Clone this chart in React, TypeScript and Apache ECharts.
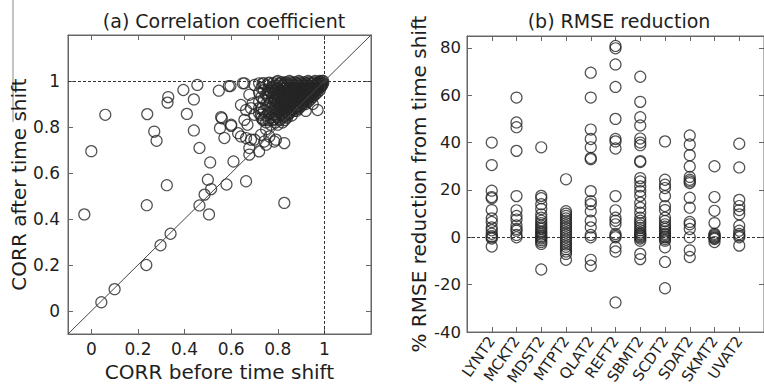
import React, { useEffect, useRef } from "react";
import * as echarts from "echarts";

// ---------- Panel (a): CORR before vs after time shift ----------
const corrTicks = [0, 0.2, 0.4, 0.6, 0.8, 1];

const sparsePoints: [number, number][] = [
  [-0.03, 0.42], [0.0, 0.695], [0.043, 0.038], [0.06, 0.853], [0.1, 0.095],
  [0.236, 0.2], [0.238, 0.46], [0.24, 0.856], [0.27, 0.78], [0.28, 0.74],
  [0.297, 0.286], [0.324, 0.547], [0.327, 0.906], [0.33, 0.93], [0.34, 0.336],
  [0.395, 0.961], [0.41, 0.857], [0.44, 0.92], [0.44, 0.785], [0.455, 0.983],
  [0.464, 0.709], [0.464, 0.459], [0.486, 0.506], [0.5, 0.571], [0.505, 0.42],
  [0.51, 0.646], [0.514, 0.53], [0.547, 0.958], [0.557, 0.843], [0.552, 0.795],
  [0.571, 0.752], [0.58, 0.55], [0.597, 0.978], [0.6, 0.805], [0.61, 0.65],
  [0.63, 0.773], [0.642, 0.896], [0.642, 0.759], [0.657, 0.99], [0.664, 0.874],
  [0.664, 0.564], [0.664, 0.752], [0.67, 0.81], [0.678, 0.68], [0.678, 0.94],
  [0.685, 0.882], [0.685, 0.745], [0.692, 0.903], [0.7, 0.983], [0.7, 0.853],
  [0.7, 0.745], [0.678, 0.709], [0.72, 0.882], [0.728, 0.766], [0.728, 0.853],
  [0.735, 0.831], [0.742, 0.737], [0.75, 0.79], [0.75, 0.723], [0.764, 0.759],
  [0.785, 0.737], [0.792, 0.745], [0.828, 0.73], [0.828, 0.47], [0.971, 0.874],
  [0.657, 0.831], [0.56, 0.838], [0.6, 0.81], [0.65, 0.99], [0.735, 0.99],
  [0.764, 0.993], [0.757, 0.947], [0.59, 0.978], [0.72, 0.694],
];

const clusterPoints: [number, number][] = [
  [0.72, 0.99], [0.72, 0.95], [0.72, 0.91], [0.72, 0.86],
  [0.73, 0.97], [0.73, 0.93], [0.73, 0.88], [0.73, 0.84],
  [0.74, 0.99], [0.74, 0.96], [0.74, 0.92], [0.74, 0.87], [0.74, 0.83],
  [0.75, 0.98], [0.75, 0.94], [0.75, 0.9], [0.75, 0.85], [0.75, 0.82],
  [0.76, 0.99], [0.76, 0.96], [0.76, 0.93], [0.76, 0.89], [0.76, 0.86], [0.76, 0.83],
  [0.77, 0.97], [0.77, 0.95], [0.77, 0.91], [0.77, 0.88], [0.77, 0.84], [0.77, 0.81],
  [0.78, 0.99], [0.78, 0.96], [0.78, 0.93], [0.78, 0.9], [0.78, 0.87], [0.78, 0.83],
  [0.79, 0.98], [0.79, 0.95], [0.79, 0.92], [0.79, 0.89], [0.79, 0.85], [0.79, 0.82],
  [0.8, 1.0], [0.8, 0.97], [0.8, 0.94], [0.8, 0.91], [0.8, 0.88], [0.8, 0.84], [0.8, 0.81],
  [0.81, 0.99], [0.81, 0.96], [0.81, 0.93], [0.81, 0.9], [0.81, 0.87], [0.81, 0.83],
  [0.82, 0.98], [0.82, 0.95], [0.82, 0.92], [0.82, 0.89], [0.82, 0.86], [0.82, 0.82],
  [0.83, 0.99], [0.83, 0.97], [0.83, 0.94], [0.83, 0.91], [0.83, 0.88], [0.83, 0.85], [0.83, 0.83],
  [0.84, 0.98], [0.84, 0.96], [0.84, 0.93], [0.84, 0.9], [0.84, 0.87], [0.84, 0.84],
  [0.85, 1.0], [0.85, 0.97], [0.85, 0.95], [0.85, 0.92], [0.85, 0.89], [0.85, 0.86],
  [0.86, 0.99], [0.86, 0.96], [0.86, 0.94], [0.86, 0.91], [0.86, 0.88], [0.86, 0.85],
  [0.87, 0.98], [0.87, 0.97], [0.87, 0.95], [0.87, 0.93], [0.87, 0.9], [0.87, 0.87],
  [0.88, 0.99], [0.88, 0.97], [0.88, 0.94], [0.88, 0.92], [0.88, 0.89], [0.88, 0.87],
  [0.89, 1.0], [0.89, 0.98], [0.89, 0.96], [0.89, 0.93], [0.89, 0.91], [0.89, 0.88],
  [0.9, 0.99], [0.9, 0.97], [0.9, 0.95], [0.9, 0.94], [0.9, 0.92], [0.9, 0.89],
  [0.91, 0.98], [0.91, 0.96], [0.91, 0.95], [0.91, 0.93], [0.91, 0.91], [0.91, 0.9],
  [0.92, 0.99], [0.92, 0.98], [0.92, 0.96], [0.92, 0.94], [0.92, 0.92], [0.92, 0.9], [0.92, 0.87],
  [0.93, 1.0], [0.93, 0.98], [0.93, 0.97], [0.93, 0.95], [0.93, 0.93], [0.93, 0.91],
  [0.94, 0.99], [0.94, 0.97], [0.94, 0.96], [0.94, 0.94], [0.94, 0.92],
  [0.95, 0.99], [0.95, 0.98], [0.95, 0.96], [0.95, 0.95], [0.95, 0.93], [0.95, 0.9],
  [0.96, 1.0], [0.96, 0.98], [0.96, 0.97], [0.96, 0.96], [0.96, 0.94],
  [0.97, 0.99], [0.97, 0.98], [0.97, 0.97], [0.97, 0.95],
  [0.98, 1.0], [0.98, 0.99], [0.98, 0.98], [0.98, 0.96],
  [0.99, 1.0], [0.99, 0.99], [0.99, 0.98],
  [0.995, 1.0], [0.995, 0.99],
];

const clusterCorePoints: [number, number][] = [
  [0.785, 0.975], [0.785, 0.945], [0.785, 0.915], [0.785, 0.885], [0.785, 0.855], [0.785, 0.835],
  [0.795, 0.995], [0.795, 0.965], [0.795, 0.935], [0.795, 0.905], [0.795, 0.875], [0.795, 0.845],
  [0.805, 0.985], [0.805, 0.955], [0.805, 0.925], [0.805, 0.895], [0.805, 0.865], [0.805, 0.835],
  [0.815, 0.995], [0.815, 0.975], [0.815, 0.945], [0.815, 0.915], [0.815, 0.885], [0.815, 0.855],
  [0.825, 0.985], [0.825, 0.965], [0.825, 0.935], [0.825, 0.905], [0.825, 0.875], [0.825, 0.845],
  [0.835, 0.995], [0.835, 0.955], [0.835, 0.925], [0.835, 0.895], [0.835, 0.865], [0.835, 0.845],
  [0.845, 0.985], [0.845, 0.965], [0.845, 0.945], [0.845, 0.915], [0.845, 0.885], [0.845, 0.855],
  [0.855, 0.995], [0.855, 0.975], [0.855, 0.935], [0.855, 0.905], [0.855, 0.875], [0.855, 0.865],
  [0.865, 0.985], [0.865, 0.955], [0.865, 0.925], [0.865, 0.895], [0.865, 0.875],
  [0.875, 0.995], [0.875, 0.965], [0.875, 0.945], [0.875, 0.915], [0.875, 0.885],
  [0.885, 0.985], [0.885, 0.955], [0.885, 0.935], [0.885, 0.905], [0.885, 0.885],
  [0.895, 0.995], [0.895, 0.975], [0.895, 0.945], [0.895, 0.925], [0.895, 0.895],
  [0.905, 0.985], [0.905, 0.965], [0.905, 0.935], [0.905, 0.915], [0.905, 0.905],
  [0.915, 0.995], [0.915, 0.975], [0.915, 0.945], [0.915, 0.925],
  [0.925, 0.985], [0.925, 0.965], [0.925, 0.955], [0.925, 0.935], [0.925, 0.915],
  [0.935, 0.995], [0.935, 0.975], [0.935, 0.945], [0.935, 0.925],
  [0.945, 0.985], [0.945, 0.965], [0.945, 0.955], [0.945, 0.935],
  [0.955, 0.995], [0.955, 0.975], [0.955, 0.945],
  [0.965, 0.985], [0.965, 0.965], [0.965, 0.955],
  [0.975, 0.995], [0.975, 0.975], [0.975, 0.965],
  [0.985, 0.995], [0.985, 0.985], [0.985, 0.975],
];

// ---------- Panel (b): % RMSE reduction per station ----------
const stations = [
  "LYNT2", "MCKT2", "MDST2", "MTPT2", "QLAT2", "REFT2",
  "SBMT2", "SCDT2", "SDAT2", "SKMT2", "UVAT2",
];
const rmseTicks = [-40, -20, 0, 20, 40, 60, 80];

const lynt2 = [40, 30.5, 19.7, 17, 16.5, 11.5, 8, 6.5, 4.2, 3, 1.5, 0.5, 0, -0.5, -3.9];
const mckt2 = [59, 48.5, 46.5, 36.5, 17.4, 11.4, 9, 7.5, 5, 3.5, 2.8, 1, 0];
const mdst2 = [38, 17.5, 16.5, 14, 12, 9.7, 8.3, 7, 6, 5, 4.2, 3.5, 2.5, 2, 1.2, 0.5, 0, -0.5, -1.2, -2, -2.8, -13.6];
const mtpt2 = [24.5, 11, 10, 9, 8, 7, 6, 5, 4, 3, 2, 1, 0, -1, -2, -3, -4, -5, -6, -7, -9.5];
const qlat2 = [69.5, 59, 45.5, 41.5, 38, 33.5, 33, 19.5, 15.3, 14, 11, 7, 4.2, 1, 0, -9.5, -12];
const reft2 = [80.8, 79.8, 73, 63.5, 50, 41.5, 40.5, 37.5, 17.4, 11.4, 8.3, 7, 5.5, 1.4, 0.6, 0, -4.2, -6, -27.5];
const sbmt2 = [67.8, 57.2, 50.7, 47.2, 41.7, 40, 38.9, 32.2, 31.8, 25, 23.6, 21.5, 19.5, 17.5, 14.6, 12.5, 10.4, 8.3, 7, 6, 5, 4, 3, 2, 1.4, 1, 0.5, 0, -0.5, -1.4, -7, -9.2];
const scdt2 = [40.5, 24.3, 22.2, 20.8, 17.4, 13.2, 11.5, 8.3, 6.9, 5.5, 4.5, 3.5, 2.5, 1.5, 1, 0.3, 0, -0.7, -1.4, -4.2, -10.4, -21.5];
const sdat2 = [43, 39.2, 34.7, 29.9, 25.5, 24.3, 23.6, 22.9, 16.7, 12.5, 6.5, 5.5, 3.5, 0, -5.5, -8.3];
const skmt2 = [30, 17, 11.2, 6, 1.5, 1, 0.5, 0, -0.3, -0.7, -2];
const uvat2 = [39.5, 29.5, 15.8, 13.2, 11.5, 9.7, 4.9, 2.8, 1.4, 0.7, 0, -3.5];

const rmseByStation = [lynt2, mckt2, mdst2, mtpt2, qlat2, reft2, sbmt2, scdt2, sdat2, skmt2, uvat2];

const FONT = "DejaVu Sans";
const TXT = "#1e1e1e";
const AX = "#666";

export default function App() {
  const ref = useRef<HTMLDivElement>(null);

  useEffect(() => {
    document.body.style.margin = "0";
    if (!ref.current) return;
    const chart = echarts.init(ref.current, null, { renderer: "svg" });

    const axisLineStyle = () => ({ show: true, onZero: false, lineStyle: { color: AX, width: 1 } });
    const tickIn = (vals: number[]) => ({
      show: true,
      inside: true,
      length: 5,
      customValues: vals,
      lineStyle: { color: AX, width: 1 },
    });
    const fmtCorr = (v: number) => String(Math.round(v * 10) / 10);

    const circle = {
      symbol: "circle",
      symbolSize: 11,
      itemStyle: { color: "rgba(0,0,0,0)", borderColor: "#262626", borderWidth: 1.2 },
    };

    const stationTicks = stations.map((_, i) => i + 1);

    const option: any = {
      animation: false,
      backgroundColor: "#ffffff",
      textStyle: { fontFamily: FONT, color: TXT },
      title: [
        {
          text: "(a) Correlation coefficient",
          left: 219,
          top: 6,
          textAlign: "center",
          textStyle: { fontFamily: FONT, fontSize: 19, fontWeight: "normal", color: TXT },
        },
        {
          text: "(b) RMSE reduction",
          left: 614,
          top: 6,
          textAlign: "center",
          textStyle: { fontFamily: FONT, fontSize: 19, fontWeight: "normal", color: TXT },
        },
      ],
      grid: [
        { left: 68, top: 35, width: 303, height: 299, show: true, borderColor: AX, borderWidth: 1, backgroundColor: "transparent" },
        { left: 467, top: 36, width: 301, height: 299, show: true, borderColor: AX, borderWidth: 1, backgroundColor: "transparent" },
      ],
      xAxis: [
        {
          gridIndex: 0,
          type: "value",
          min: -0.1,
          max: 1.2,
          position: "bottom",
          splitLine: { show: false },
          axisLine: axisLineStyle(),
          axisTick: tickIn(corrTicks),
          axisLabel: {
            customValues: corrTicks,
            formatter: fmtCorr,
            fontFamily: FONT,
            fontSize: 17,
            color: TXT,
            margin: 6,
          },
          name: "CORR before time shift",
          nameLocation: "middle",
          nameGap: 28,
          nameTextStyle: { fontFamily: FONT, fontSize: 20, color: TXT },
        },
        {
          gridIndex: 0,
          type: "value",
          min: -0.1,
          max: 1.2,
          position: "top",
          splitLine: { show: false },
          axisLine: axisLineStyle(),
          axisTick: tickIn(corrTicks),
          axisLabel: { show: false },
        },
        {
          gridIndex: 1,
          type: "value",
          min: 0,
          max: 12,
          position: "bottom",
          splitLine: { show: false },
          axisLine: axisLineStyle(),
          axisTick: tickIn(stationTicks),
          axisLabel: {
            customValues: stationTicks,
            formatter: (v: number) => stations[Math.round(v) - 1] ?? "",
            rotate: 55,
            fontFamily: FONT,
            fontSize: 15,
            color: TXT,
            margin: 6,
          },
        },
        {
          gridIndex: 1,
          type: "value",
          min: 0,
          max: 12,
          position: "top",
          splitLine: { show: false },
          axisLine: axisLineStyle(),
          axisTick: tickIn(stationTicks),
          axisLabel: { show: false },
        },
      ],
      yAxis: [
        {
          gridIndex: 0,
          type: "value",
          min: -0.1,
          max: 1.2,
          position: "left",
          splitLine: { show: false },
          axisLine: axisLineStyle(),
          axisTick: tickIn(corrTicks),
          axisLabel: {
            customValues: corrTicks,
            formatter: fmtCorr,
            fontFamily: FONT,
            fontSize: 17,
            color: TXT,
            margin: 8,
          },
          name: "CORR after time shift",
          nameLocation: "middle",
          nameGap: 38,
          nameTextStyle: { fontFamily: FONT, fontSize: 20, color: TXT },
        },
        {
          gridIndex: 0,
          type: "value",
          min: -0.1,
          max: 1.2,
          position: "right",
          splitLine: { show: false },
          axisLine: axisLineStyle(),
          axisTick: tickIn(corrTicks),
          axisLabel: { show: false },
        },
        {
          gridIndex: 1,
          type: "value",
          min: -40,
          max: 85,
          position: "left",
          splitLine: { show: false },
          axisLine: axisLineStyle(),
          axisTick: tickIn(rmseTicks),
          axisLabel: {
            customValues: rmseTicks,
            fontFamily: FONT,
            fontSize: 16.5,
            color: TXT,
            margin: 6,
          },
          name: "% RMSE reduction from time shift",
          nameLocation: "middle",
          nameGap: 38,
          nameTextStyle: { fontFamily: FONT, fontSize: 20, color: TXT },
        },
        {
          gridIndex: 1,
          type: "value",
          min: -40,
          max: 85,
          position: "right",
          splitLine: { show: false },
          axisLine: axisLineStyle(),
          axisTick: tickIn(rmseTicks),
          axisLabel: { show: false },
        },
      ],
      series: [
        {
          type: "scatter",
          xAxisIndex: 0,
          yAxisIndex: 0,
          ...circle,
          data: [...sparsePoints, ...clusterPoints, ...clusterCorePoints],
          markLine: {
            silent: true,
            symbol: "none",
            label: { show: false },
            data: [
              { yAxis: 1, lineStyle: { color: "#333", width: 1, type: [3, 2] } },
              { xAxis: 1, lineStyle: { color: "#333", width: 1, type: [3, 2] } },
              [
                { coord: [-0.1, -0.1], lineStyle: { color: "#444", width: 1, type: "solid" } },
                { coord: [1.2, 1.2] },
              ],
            ],
          },
        },
        {
          type: "scatter",
          xAxisIndex: 2,
          yAxisIndex: 2,
          ...circle,
          data: rmseByStation.flatMap((vals, i) => vals.map((v) => [i + 1, v])),
          markLine: {
            silent: true,
            symbol: "none",
            label: { show: false },
            data: [{ yAxis: 0, lineStyle: { color: "#333", width: 1, type: [3, 2] } }],
          },
        },
      ],
      graphic: [
        {
          type: "line",
          shape: { x1: 13, y1: 0, x2: 13, y2: 122 },
          style: { stroke: "#8a8a8a", lineWidth: 1 },
          silent: true,
        },
      ],
    };

    chart.setOption(option);
    return () => chart.dispose();
  }, []);

  return <div ref={ref} style={{ width: 764, height: 388 }} />;
}
